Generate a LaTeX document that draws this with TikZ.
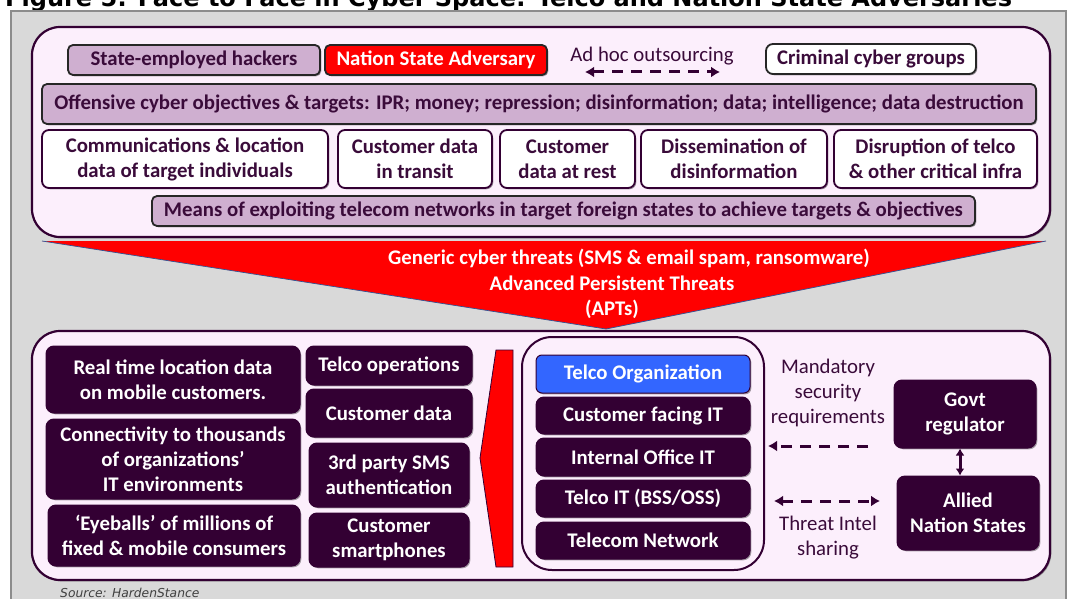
\documentclass[tikz,border=0pt]{standalone}
\usepackage{fontspec}
\setmainfont{Carlito}
\newfontfamily\verdanalike{DejaVu Sans}
\usetikzlibrary{shadows,arrows.meta}

\definecolor{bggray}{HTML}{D9D9D9}
\definecolor{framegray}{HTML}{8C8C8C}
\definecolor{panelfill}{HTML}{FCEFFC}
\definecolor{plum}{HTML}{330033}
\definecolor{plumtext}{HTML}{3A0B3A}
\definecolor{lilac}{HTML}{CFAFD0}
\definecolor{telcoblue}{HTML}{3366FF}
\definecolor{edgeblue}{HTML}{2F5597}

\newcommand\bxfont{\fontsize{20.8}{25}\selectfont\bfseries}
\newcommand\rgfont{\fontsize{20.8}{25}\selectfont}

\tikzset{
  softshadow/.style={drop shadow={shadow xshift=1.3pt, shadow yshift=-1.3pt, opacity=0.35, fill=black}},
  basebox/.style={align=center, inner sep=0pt, line width=1.8pt, font=\bxfont, softshadow},
  lilacbox/.style={basebox, rounded corners=5pt, fill=lilac, draw=black!85, text=plumtext},
  redbox/.style={basebox, rounded corners=5pt, fill=red, draw=black!85, text=white},
  whitebox/.style={basebox, rounded corners=7pt, fill=white, draw=plum, text=plumtext},
  darkbox/.style={basebox, rounded corners=8pt, fill=plum, draw=plum, text=white, line width=1pt},
  bluebox/.style={basebox, rounded corners=6pt, fill=telcoblue, draw=plum, text=white, line width=1pt},
  panel/.style={rounded corners=28pt, fill=panelfill, draw=plum, line width=2.2pt, inner sep=0pt, softshadow},
  lbl/.style={font=\rgfont, text=plumtext, align=center, inner sep=0pt},
  dashlink/.style={plum, line width=3pt, dash pattern=on 11pt off 8pt},
  dtip/.tip={Latex[length=9pt,width=11pt]},
  stip/.tip={Latex[length=7pt,width=9pt]}
}

\begin{document}
\begin{tikzpicture}[x=1pt,y=-1pt]
\useasboundingbox (0,0) rectangle (1070,599);
\clip (0,0) rectangle (1070,599);

% caption line above the frame
\node[anchor=base west, inner sep=0pt, font=\verdanalike\bfseries\fontsize{24}{28}\selectfont] (title) at (5,7)
  {Figure 5: Face to Face in Cyber Space: Telco and Nation State Adversaries};

% grey frame
\fill[bggray] (11,11) rectangle (1066,620);
\draw[framegray, line width=2pt] (11,620) -- (11,11) -- (1066,11) -- (1066,620);

% ---------------- adversary panel ----------------
\node[panel, minimum width=1018pt, minimum height=210pt] (adv) at (541,132) {};

\node[lilacbox, minimum width=252pt, minimum height=30pt] (hackers) at (194,60) {State-employed hackers};
\node[redbox, minimum width=222pt, minimum height=30pt] (nsa) at (436,60) {Nation State Adversary};
\node[lbl] (adhoc) at (652,56) {Ad hoc outsourcing};
\coordinate (adhocL) at (585,72);
\coordinate (adhocR) at (720,72);
\draw[dashlink, dtip-dtip] (adhocL) -- (adhocR);
\node[whitebox, draw=black!85, minimum width=210pt, minimum height=30pt] (crim) at (871,59) {Criminal cyber groups};

\node[lilacbox, minimum width=994pt, minimum height=40pt] (obj) at (539,104)
  {Offensive cyber objectives \& targets: IPR; money; repression; disinformation; data; intelligence; data destruction};

\node[whitebox, minimum width=286pt, minimum height=58pt] (comm) at (185,159) {Communications \& location\\data of target individuals};
\node[whitebox, minimum width=154pt, minimum height=58pt] (transit) at (415,159) {Customer data\\in transit};
\node[whitebox, minimum width=135pt, minimum height=58pt] (rest) at (567.5,159) {Customer\\data at rest};
\node[whitebox, minimum width=186pt, minimum height=58pt] (dissem) at (734,159) {Dissemination of\\disinformation};
\node[whitebox, minimum width=203pt, minimum height=58pt] (disrupt) at (935.5,159) {Disruption of telco\\\& other critical infra};

\node[lilacbox, minimum width=823pt, minimum height=30pt] (means) at (563.5,211)
  {Means of exploiting telecom networks in target foreign states to achieve targets \& objectives};

% ---------------- telco panel ----------------
\node[panel, minimum width=1018pt, minimum height=249pt] (def) at (541,455.5) {};

% threat wedge between the panels
\fill[red] (42,241) -- (1046,241) -- (606,329) -- cycle;
\draw[edgeblue, line width=0.7pt] (42,241) -- (606,329) -- (1046,241);
\node[align=center, inner sep=0pt, text=white, font=\bfseries\fontsize{20.8}{25.5}\selectfont] (threats) at (612,284)
  {\hspace*{34pt}Generic cyber threats (SMS \& email spam, ransomware)\\Advanced Persistent Threats\\(APTs)};

% assets at stake
\node[darkbox, minimum width=254pt, minimum height=67pt] (loc) at (173,379.5) {Real time location data\\on mobile customers.};
\node[darkbox, minimum width=254pt, minimum height=80pt] (conn) at (173,459) {Connectivity to thousands\\of organizations'\\IT environments};
\node[darkbox, minimum width=252pt, minimum height=61pt] (eye) at (174,535.5) {`Eyeballs' of millions of\\fixed \& mobile consumers};

\node[darkbox, minimum width=166pt, minimum height=39pt] (ops) at (389,365.5) {Telco operations};
\node[darkbox, minimum width=166pt, minimum height=48pt] (cdata) at (389,413) {Customer data};
\node[darkbox, minimum width=160pt, minimum height=64pt] (sms) at (389,475) {3rd party SMS\\authentication};
\node[darkbox, minimum width=160pt, minimum height=54pt] (phones) at (389,540) {Customer\\smartphones};

% left-pointing attack arrow
\fill[red, draw=plum, line width=0.8pt] (496,350) -- (513,350) -- (513,567) -- (496,567) -- (480,458) -- cycle;

% telco organisation stack
\node[rounded corners=30pt, draw=plum, line width=2pt, minimum width=242pt, minimum height=233pt, inner sep=0pt] (telco) at (643,453.5) {};
\node[bluebox, minimum width=214pt, minimum height=38pt] (org) at (643,374) {Telco Organization};
\node[darkbox, minimum width=214pt, minimum height=37pt] (cfit) at (643,415.5) {Customer facing IT};
\node[darkbox, minimum width=214pt, minimum height=38pt] (ioit) at (643,457) {Internal Office IT};
\node[darkbox, minimum width=214pt, minimum height=37pt] (tit) at (643,498.5) {Telco IT (BSS/OSS)};
\node[darkbox, minimum width=214pt, minimum height=37pt] (tnet) at (643,540.5) {Telecom Network};

% regulators and allies
\node[darkbox, minimum width=142pt, minimum height=68pt] (govt) at (965,414) {Govt\\regulator};
\node[darkbox, minimum width=142pt, minimum height=74pt] (allied) at (968,513) {Allied\\Nation States};
\draw[plum, line width=3pt, stip-stip]
  ([xshift=-5pt]govt.south) -- ([xshift=-8pt]allied.north);

\node[lbl] (mand) at (828,393) {Mandatory\\security\\requirements};
\coordinate (mandR) at (868,446);
\coordinate (mandL) at (768,446);
\draw[dashlink, -dtip] (mandR) -- (mandL);

\coordinate (shareL) at (774,501);
\coordinate (shareR) at (880,501);
\draw[dashlink, dtip-dtip] (shareL) -- (shareR);
\node[lbl] (share) at (828,538) {Threat Intel\\sharing};

% source line
\node[anchor=base west, inner sep=0pt, text=black!75, font=\verdanalike\itshape\fontsize{12.3}{15}\selectfont] (src) at (60,597) {Source: HardenStance};
\end{tikzpicture}
\end{document}
